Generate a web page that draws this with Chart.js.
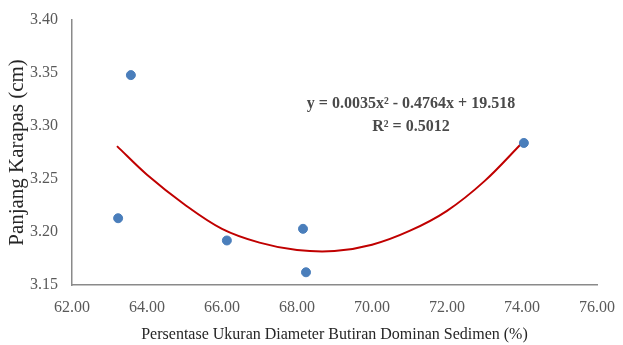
<!DOCTYPE html>
<html>
<head>
<meta charset="utf-8">
<script src="https://cdn.jsdelivr.net/npm/chart.js@4"></script>
<style>
  html, body { margin: 0; padding: 0; background: #fff; }
  #wrap { width: 623px; height: 345px; }
</style>
</head>
<body>
<div id="wrap"><canvas id="scatterChart"></canvas></div>
<script>
const persenX = [63.23, 63.57, 66.13, 68.16, 68.24, 74.05];
const panjangY = [3.213, 3.348, 3.192, 3.203, 3.162, 3.284];

// trendline
const trendX = [63.2, 64, 65, 66, 67, 68, 69, 70, 71, 72, 73, 74];
const trendY = [3.281, 3.254, 3.226, 3.203, 3.190, 3.183, 3.182, 3.188, 3.201, 3.220, 3.248, 3.284];

const eqLines = ['y = 0.0035x\u00b2 - 0.4764x + 19.518', 'R\u00b2 = 0.5012'];

const serif = '"Liberation Serif", "Times New Roman", serif';

const eqLabel = {
    id: 'eqLabel',
    afterDatasetsDraw(chart) {
        const ctx = chart.ctx;
        const x = chart.scales.x.getPixelForValue(71.04);
        ctx.save();
        ctx.font = 'bold 16px ' + serif;
        ctx.fillStyle = '#4a4a4a';
        ctx.textAlign = 'center';
        ctx.textBaseline = 'middle';
        ctx.fillText(eqLines[0], x, chart.scales.y.getPixelForValue(3.321));
        ctx.fillText(eqLines[1], x, chart.scales.y.getPixelForValue(3.299));
        ctx.restore();
    }
};

new Chart(document.getElementById('scatterChart'), {
    type: 'scatter',
    data: {
        datasets: [
            {
                label: 'Data',
                data: persenX.map((x, i) => ({ x: x, y: panjangY[i] })),
                backgroundColor: '#4a7ebb',
                borderColor: '#4a7ebb',
                pointRadius: 4.5,
                pointHoverRadius: 4.5
            },
            {
                label: 'Trend',
                data: trendX.map((x, i) => ({ x: x, y: trendY[i] })),
                showLine: true,
                borderColor: '#c00000',
                borderWidth: 2,
                pointRadius: 0,
                tension: 0.35
            }
        ]
    },
    options: {
        responsive: true,
        maintainAspectRatio: false,
        animation: false,
        layout: { padding: { top: 20, right: 26, left: 0, bottom: 0 } },
        plugins: {
            legend: { display: false },
            tooltip: { enabled: false }
        },
        scales: {
            x: {
                type: 'linear',
                min: 62,
                max: 76,
                grid: { display: false, drawTicks: false },
                border: { color: '#8a8a8a', width: 1.5 },
                ticks: {
                    stepSize: 2,
                    padding: 13,
                    color: '#595959',
                    font: { family: serif, size: 16 },
                    callback: v => v.toFixed(2)
                },
                title: {
                    display: true,
                    text: 'Persentase Ukuran Diameter Butiran Dominan Sedimen (%)',
                    color: '#262626',
                    font: { family: serif, size: 16 },
                    padding: { top: 4, bottom: 1 }
                },
                afterFit: s => { s.height = 60; s.paddingRight = 0; s.paddingLeft = 0; }
            },
            y: {
                min: 3.15,
                max: 3.40,
                grid: { display: false, drawTicks: false },
                border: { color: '#8a8a8a', width: 1.5 },
                ticks: {
                    stepSize: 0.05,
                    padding: 14,
                    color: '#595959',
                    font: { family: serif, size: 16 },
                    callback: v => v.toFixed(2)
                },
                title: {
                    display: true,
                    text: 'Panjang Karapas (cm)',
                    color: '#262626',
                    font: { family: serif, size: 21 },
                    padding: { top: 5, bottom: 0 }
                },
                afterFit: s => { s.width = 72; s.paddingTop = 0; s.paddingBottom = 0; }
            }
        }
    },
    plugins: [eqLabel]
});
</script>
</body>
</html>
